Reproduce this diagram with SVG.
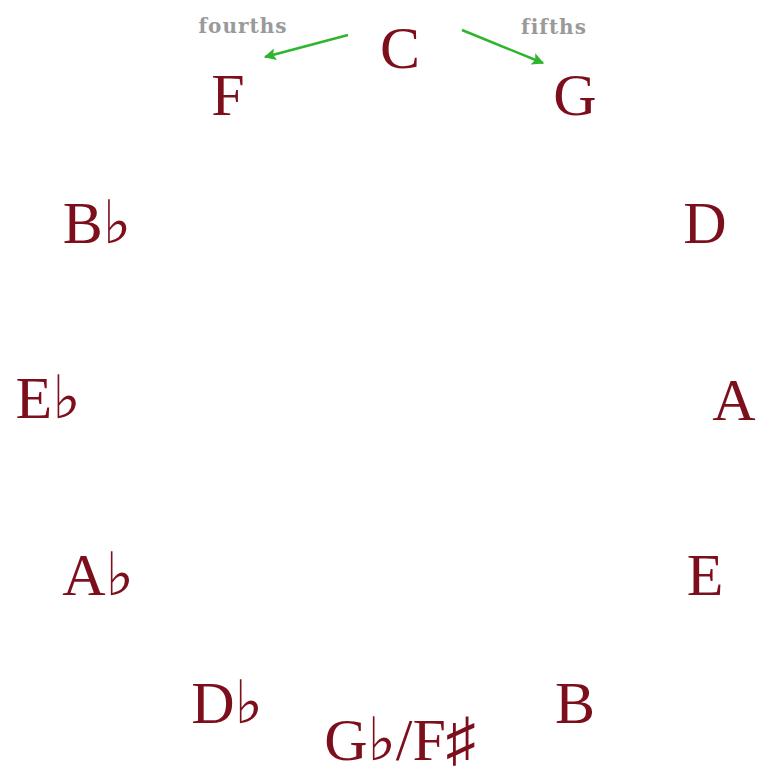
<svg xmlns="http://www.w3.org/2000/svg" width="758" height="774" viewBox="0 0 758 774">
<style>
.k{font-family:"Liberation Serif","DejaVu Serif",serif;font-size:60px;fill:#7d0f1c;text-anchor:middle}
.l{font-family:"DejaVu Serif","Liberation Serif",serif;font-size:20px;font-weight:bold;fill:#9a9a9a;letter-spacing:1px;text-anchor:middle}
.c{stroke:#2db52d;stroke-width:2.5;fill:none;marker-end:url(#ah)}
</style>
<defs>
<marker id="ah" viewBox="0 0 10 10" refX="9" refY="5" markerWidth="16" markerHeight="12" orient="auto" markerUnits="userSpaceOnUse">
<path d="M0,0 L10,5 L0,10 L2,5 Z" fill="#2db52d"/>
</marker>
</defs>
<rect width="758" height="774" fill="#fff"/>
<g id="connectors">
<line class="c" x1="348" y1="35" x2="265" y2="57"/>
<line class="c" x1="462" y1="30" x2="543" y2="63"/>
<text class="l" x="243" y="33">fourths</text>
<text class="l" x="554" y="34">fifths</text>
</g>
<g id="C"><text class="k" x="400" y="68">C</text></g>
<g id="G"><text class="k" x="575" y="115">G</text></g>
<g id="D"><text class="k" x="705" y="243">D</text></g>
<g id="A"><text class="k" x="734" y="420">A</text></g>
<g id="E"><text class="k" x="705" y="595">E</text></g>
<g id="B"><text class="k" x="575" y="723">B</text></g>
<g id="GbFs"><text class="k" x="400" y="760">G♭/F♯</text></g>
<g id="Db"><text class="k" x="227" y="723">D♭</text></g>
<g id="Ab"><text class="k" x="98" y="595">A♭</text></g>
<g id="Eb"><text class="k" x="48" y="418">E♭</text></g>
<g id="Bb"><text class="k" x="97" y="243">B♭</text></g>
<g id="F"><text class="k" x="228" y="115">F</text></g>
</svg>
